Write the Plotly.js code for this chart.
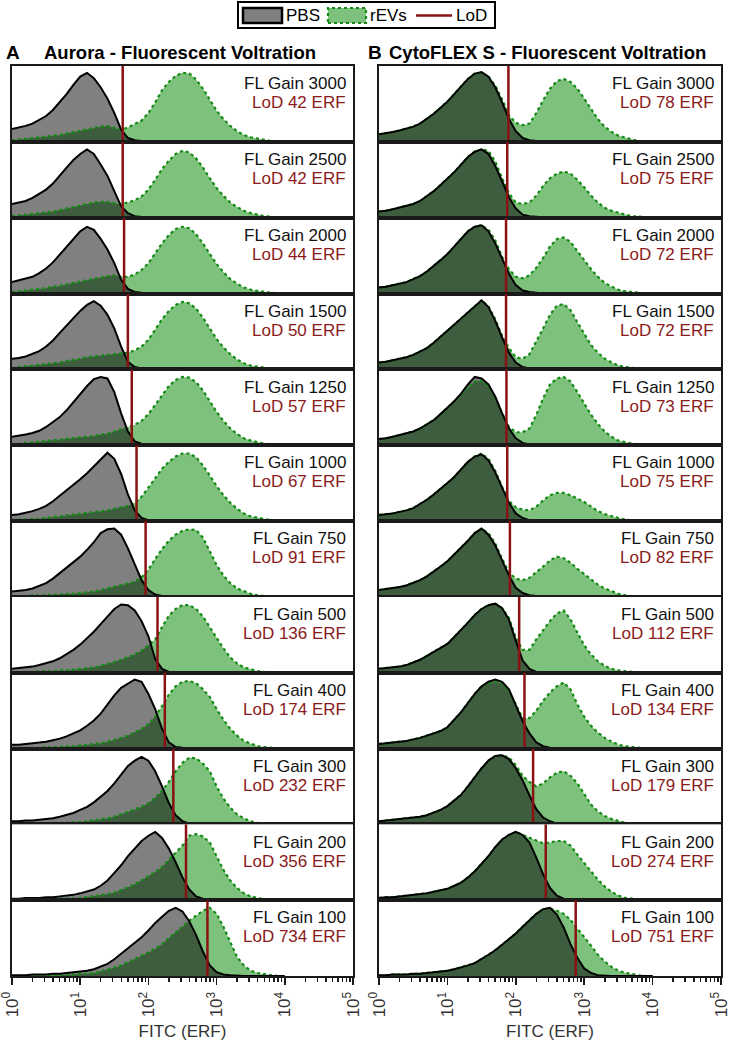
<!DOCTYPE html>
<html><head><meta charset="utf-8">
<script src="https://cdn.plot.ly/plotly-3.0.1.min.js"></script>
<style>html,body{margin:0;padding:0;background:#fff}#chart{width:733px;height:1044px}</style>
</head><body><div id="chart"></div>
<script>
// ---------- data ----------
const binLog10 = [0.0,0.1,0.2,0.3,0.4,0.5,0.6,0.7,0.8,0.9,1.0,1.1,1.2,1.3,1.4,1.5,1.6,1.7,1.8,1.9,2.0,2.1,2.2,2.3,2.4,2.5,2.6,2.7,2.8,2.9,3.0,3.1,3.2,3.3,3.4,3.5,3.6,3.7,3.8,3.9,4.0];
const gains = [3000,2500,2000,1500,1250,1000,750,500,400,300,200,100];
const lodAurora = [42,42,44,50,57,67,91,136,174,232,356,734];
const lodCyto = [78,75,72,72,73,75,82,112,134,179,274,751];
const tickVals = [1,10,100,1000,10000,100000];
const tickText = ['10<sup>0</sup>','10<sup>1</sup>','10<sup>2</sup>','10<sup>3</sup>','10<sup>4</sup>','10<sup>5</sup>'];

// Aurora (A) - normalized event counts
const aPBS3000 = [17,19,21,24,29,34,42,52,63,75,86,91,84,72,57,38,16,5,2,1,0,0,0,0,0,0,0,0,0,0,0,0,0,0,0,0,0,0,0,0,0];
const aREV3000 = [2,3,4,5,6,7,8,9,11,13,15,17,19,20,21,19,16,19,23,28,38,52,68,79,87,91,90,82,70,55,41,30,21,14,9,6,4,2,1,0,0];
const aPBS2500 = [18,20,22,26,31,37,45,56,66,76,84,90,84,70,55,35,15,6,2,1,0,0,0,0,0,0,0,0,0,0,0,0,0,0,0,0,0,0,0,0,0];
const aREV2500 = [2,3,4,5,6,7,8,10,12,14,16,18,20,21,21,19,18,20,23,28,37,50,64,75,84,88,86,78,66,52,39,29,20,14,9,6,4,2,1,0,0];
const aPBS2000 = [15,17,19,22,27,33,41,51,62,72,82,88,84,72,58,40,18,6,2,1,0,0,0,0,0,0,0,0,0,0,0,0,0,0,0,0,0,0,0,0,0];
const aREV2000 = [2,3,4,5,6,7,9,10,12,14,16,18,20,22,23,24,22,22,25,31,40,53,66,77,85,88,86,78,66,52,39,28,19,13,8,5,3,2,1,0,0];
const aPBS1500 = [14,15,17,20,24,30,38,48,58,68,77,85,90,84,72,54,30,10,3,1,0,0,0,0,0,0,0,0,0,0,0,0,0,0,0,0,0,0,0,0,0];
const aREV1500 = [2,3,4,5,6,7,8,9,11,12,14,16,17,18,19,20,21,22,25,30,39,52,66,77,85,89,87,80,68,54,40,29,20,13,8,5,3,2,1,0,0];
const aPBS1250 = [11,12,14,16,19,24,30,37,46,57,67,78,87,90,88,70,42,18,5,2,1,0,0,0,0,0,0,0,0,0,0,0,0,0,0,0,0,0,0,0,0];
const aREV1250 = [1,2,3,3,4,5,6,7,8,9,10,11,12,14,15,18,21,24,27,32,41,53,66,78,86,90,89,83,72,58,44,32,22,15,9,6,4,2,1,0,0];
const aPBS1000 = [8,9,11,13,16,20,26,33,41,48,55,63,72,82,90,82,62,35,14,4,1,0,0,0,0,0,0,0,0,0,0,0,0,0,0,0,0,0,0,0,0];
const aREV1000 = [1,2,2,3,3,4,5,6,7,8,9,10,11,12,14,16,18,20,24,32,44,57,69,78,85,89,89,84,73,60,46,34,24,16,10,6,4,2,1,0,0];
const aPBS750 = [7,8,9,11,14,18,24,31,38,46,53,62,72,84,89,90,82,64,42,22,9,3,1,0,0,0,0,0,0,0,0,0,0,0,0,0,0,0,0,0,0];
const aREV750 = [1,1,1,2,2,2,3,3,4,4,5,6,7,9,11,13,15,17,20,26,36,50,63,74,82,87,89,88,78,60,42,28,18,11,7,4,2,1,0,0,0];
const aPBS500 = [5,6,7,8,10,12,15,19,24,30,37,45,54,64,74,84,90,89,82,68,48,18,5,1,0,0,0,0,0,0,0,0,0,0,0,0,0,0,0,0,0];
const aREV500 = [0,1,1,1,2,2,2,3,3,4,5,6,7,9,11,14,17,20,24,29,36,44,60,75,84,89,89,84,74,60,45,32,20,12,7,4,2,1,0,0,0];
const aPBS400 = [5,5,6,7,8,9,11,13,16,20,24,30,37,46,58,70,80,86,91,88,72,52,26,8,2,1,0,0,0,0,0,0,0,0,0,0,0,0,0,0,0];
const aREV400 = [0,1,1,1,1,2,2,2,3,3,4,5,6,7,9,11,14,17,21,26,32,42,56,71,82,88,89,86,78,68,52,38,26,17,10,6,3,2,1,0,0];
const aPBS300 = [4,4,5,5,6,7,8,10,12,15,19,23,29,36,44,54,66,77,84,89,84,70,50,28,12,4,1,0,0,0,0,0,0,0,0,0,0,0,0,0,0];
const aREV300 = [0,0,1,1,1,1,2,2,2,3,3,4,5,6,8,10,13,16,19,23,28,35,44,56,70,81,88,87,80,70,50,34,22,13,8,4,2,1,0,0,0];
const aPBS200 = [2,2,3,3,3,4,4,5,6,7,9,11,14,19,26,36,46,58,68,78,85,90,82,68,50,30,14,5,2,1,0,0,0,0,0,0,0,0,0,0,0];
const aREV200 = [0,0,0,1,1,1,1,2,2,2,3,4,5,6,8,10,13,17,21,26,31,37,44,53,62,72,85,87,84,76,58,40,26,16,9,5,3,1,0,0,0];
const aPBS100 = [1,1,1,2,2,2,3,3,4,5,6,7,9,12,16,22,29,36,44,51,60,70,78,86,90,85,72,54,32,14,5,2,1,0,0,0,0,0,0,0,0];
const aREV100 = [0,0,0,0,1,1,1,1,2,2,3,3,4,6,8,11,14,18,22,26,31,36,42,50,57,65,73,80,86,90,82,65,44,25,14,7,4,2,1,0,0];

// CytoFLEX S (B) - normalized event counts
const cPBS3000 = [10,11,13,15,17,20,24,30,37,45,53,63,73,83,90,92,86,72,52,30,14,5,2,1,0,0,0,0,0,0,0,0,0,0,0,0,0,0,0,0,0];
const cREV3000 = [10,11,13,15,17,20,24,30,37,45,53,63,73,83,90,91,86,74,56,35,25,22,24,38,55,70,80,83,79,70,57,43,30,20,13,8,5,3,1,0,0];
const cPBS2500 = [8,9,11,13,15,18,22,28,35,43,51,60,70,80,87,90,84,68,48,27,12,4,2,1,0,0,0,0,0,0,0,0,0,0,0,0,0,0,0,0,0];
const cREV2500 = [8,9,11,13,15,18,22,28,35,43,51,60,70,80,87,90,88,74,52,32,20,18,20,29,42,52,58,61,58,50,40,29,20,13,9,6,4,2,1,0,0];
const cPBS2000 = [8,9,11,13,15,19,23,29,36,44,52,62,72,82,88,90,82,66,46,26,11,4,2,1,0,0,0,0,0,0,0,0,0,0,0,0,0,0,0,0,0];
const cREV2000 = [8,9,11,13,15,19,23,29,36,44,52,62,72,82,88,90,84,70,48,32,22,20,24,34,47,62,72,74,68,56,44,32,22,14,9,5,3,2,1,0,0];
const cPBS1500 = [9,10,12,14,16,19,23,28,35,43,52,60,68,76,84,91,82,64,42,22,9,3,1,0,0,0,0,0,0,0,0,0,0,0,0,0,0,0,0,0,0];
const cREV1500 = [9,10,12,14,16,19,23,28,35,43,52,60,68,76,84,91,83,66,44,28,16,14,20,36,54,72,84,86,78,62,46,32,22,14,9,5,3,2,1,0,0];
const cPBS1250 = [8,9,11,13,15,18,22,27,33,41,49,58,68,80,90,88,80,64,42,22,9,3,1,0,0,0,0,0,0,0,0,0,0,0,0,0,0,0,0,0,0];
const cREV1250 = [8,9,11,13,15,18,22,27,33,41,49,57,66,76,84,85,78,63,42,24,17,17,22,40,62,80,88,90,84,70,54,40,28,18,11,6,4,2,1,0,0];
const cPBS1000 = [8,9,10,12,14,17,22,28,35,42,50,58,68,78,85,88,80,64,44,24,10,4,1,0,0,0,0,0,0,0,0,0,0,0,0,0,0,0,0,0,0];
const cREV1000 = [8,9,10,12,14,17,22,28,35,42,50,58,68,78,85,89,82,66,45,26,18,15,14,19,27,34,37,37,34,30,25,19,13,9,6,4,2,1,0,0,0];
const cPBS750 = [9,10,11,13,15,18,22,27,33,40,47,56,64,74,84,90,82,68,48,28,12,5,2,1,0,0,0,0,0,0,0,0,0,0,0,0,0,0,0,0,0];
const cREV750 = [9,10,11,13,15,18,22,27,33,40,47,56,64,74,84,90,84,70,50,32,24,22,25,32,40,48,53,51,45,37,30,22,16,11,7,4,2,1,0,0,0];
const cPBS500 = [5,6,7,8,10,13,17,22,27,32,38,47,56,66,76,84,89,91,85,70,42,16,5,1,0,0,0,0,0,0,0,0,0,0,0,0,0,0,0,0,0];
const cREV500 = [5,6,7,8,10,13,17,22,27,32,38,47,56,66,76,84,89,91,85,72,46,30,30,44,56,68,78,82,70,52,36,24,15,9,5,3,2,1,0,0,0];
const cPBS400 = [6,7,8,9,10,12,14,17,20,23,28,38,48,60,72,82,88,91,88,78,58,36,20,8,3,1,0,0,0,0,0,0,0,0,0,0,0,0,0,0,0];
const cREV400 = [6,7,8,9,10,12,14,17,20,23,28,38,48,60,72,82,86,88,86,76,58,40,40,50,63,74,82,87,78,58,42,30,21,14,9,5,3,2,1,0,0];
const cPBS300 = [4,5,6,7,8,9,10,12,15,19,24,31,39,50,62,74,84,90,91,86,74,58,38,20,9,4,1,0,0,0,0,0,0,0,0,0,0,0,0,0,0];
const cREV300 = [4,5,6,7,8,9,10,12,15,19,24,31,39,50,62,74,84,90,91,88,78,64,56,50,54,62,68,70,64,54,40,26,17,11,7,4,2,1,0,0,0];
const cPBS200 = [3,4,4,5,6,7,8,9,11,13,15,19,23,30,38,48,58,70,80,86,90,86,76,56,34,16,6,2,1,0,0,0,0,0,0,0,0,0,0,0,0];
const cREV200 = [3,4,4,5,6,7,8,9,11,13,15,19,23,30,38,48,58,70,80,86,90,86,82,78,75,76,78,78,72,60,49,37,27,18,11,6,3,2,1,0,0];
const cPBS100 = [1,1,2,2,2,3,3,4,5,6,7,9,11,14,17,22,28,34,41,48,56,65,74,82,88,90,81,64,42,24,10,4,1,0,0,0,0,0,0,0,0];
const cREV100 = [1,1,2,2,2,3,3,4,5,6,7,9,11,14,17,22,28,34,41,48,56,65,74,82,88,89,86,82,74,63,52,40,28,19,12,7,4,2,1,0,0];

const auroraPBS = [aPBS3000,aPBS2500,aPBS2000,aPBS1500,aPBS1250,aPBS1000,aPBS750,aPBS500,aPBS400,aPBS300,aPBS200,aPBS100];
const auroraREV = [aREV3000,aREV2500,aREV2000,aREV1500,aREV1250,aREV1000,aREV750,aREV500,aREV400,aREV300,aREV200,aREV100];
const cytoPBS = [cPBS3000,cPBS2500,cPBS2000,cPBS1500,cPBS1250,cPBS1000,cPBS750,cPBS500,cPBS400,cPBS300,cPBS200,cPBS100];
const cytoREV = [cREV3000,cREV2500,cREV2000,cREV1500,cREV1250,cREV1000,cREV750,cREV500,cREV400,cREV300,cREV200,cREV100];

// ---------- styling / layout ----------
const W = 733, H = 1044;
const FONT = 'Liberation Sans, Arial, Helvetica, sans-serif';
const C_GRAY = '#808080', C_GREEN = '#7dc17d', C_OVER = '#3e5c3e', C_GLINE = '#138a13', C_RED = '#8b1212', C_FRAME = '#1a1a1a';
const gridTop = 66, gridBot = 976, nRows = 12;
const colPx = [[12, 353], [379, 721]];
const rowH = (gridBot - gridTop) / nRows;

const xs = binLog10.map(v => Math.pow(10, v));

function overlapCurve(a, b) {
  const X = [], Y = [];
  for (let i = 0; i < binLog10.length; i++) {
    X.push(binLog10[i]); Y.push(Math.min(a[i], b[i]));
    if (i < binLog10.length - 1) {
      const d0 = a[i] - b[i], d1 = a[i + 1] - b[i + 1];
      if (d0 * d1 < 0) {
        const t = d0 / (d0 - d1);
        X.push(binLog10[i] + t * (binLog10[i + 1] - binLog10[i]));
        Y.push(a[i] + t * (a[i + 1] - a[i]));
      }
    }
  }
  return {x: X.map(v => Math.pow(10, v)), y: Y};
}

const minorVals = [];
[1, 10, 100, 1000, 10000].forEach(d => { for (let k = 2; k <= 9; k++) minorVals.push(k * d); });

const traces = [];
const layout = {
  width: W, height: H,
  margin: {l: 0, r: 0, t: 0, b: 0},
  paper_bgcolor: '#fff', plot_bgcolor: '#fff',
  showlegend: false,
  font: {family: FONT, color: '#111'},
  annotations: [], shapes: []
};

const sets = [
  {pbs: auroraPBS, rev: auroraREV, lod: lodAurora},
  {pbs: cytoPBS, rev: cytoREV, lod: lodCyto}
];

sets.forEach((set, c) => {
  for (let r = 0; r < nRows; r++) {
    const idx = c * nRows + r + 1;
    const xa = 'x' + idx, ya = 'y' + idx;
    const top = gridTop + r * rowH, bot = top + rowH;
    const pbs = set.pbs[r], rev = set.rev[r];
    const ov = overlapCurve(pbs, rev);
    const base = {xaxis: xa, yaxis: ya, hoverinfo: 'skip', showlegend: false};
    traces.push(Object.assign({x: xs, y: pbs, mode: 'lines', fill: 'tozeroy', fillcolor: C_GRAY, line: {width: 0, color: C_GRAY}, name: 'PBS'}, base));
    traces.push(Object.assign({x: xs, y: rev, mode: 'lines', fill: 'tozeroy', fillcolor: C_GREEN, line: {width: 0, color: C_GREEN}, name: 'rEVs'}, base));
    traces.push(Object.assign({x: ov.x, y: ov.y, mode: 'lines', fill: 'tozeroy', fillcolor: C_OVER, line: {width: 0, color: C_OVER}, name: 'overlap'}, base));
    traces.push(Object.assign({x: xs, y: rev, mode: 'lines', line: {width: 2.2, color: C_GLINE, dash: 'dot'}, name: 'rEVs'}, base));
    traces.push(Object.assign({x: xs, y: pbs, mode: 'lines', line: {width: 2, color: '#000'}, name: 'PBS'}, base));
    traces.push(Object.assign({x: [set.lod[r], set.lod[r]], y: [0, 100], mode: 'lines', line: {width: 2.5, color: C_RED}, name: 'LoD'}, base));

    const isBottom = r === nRows - 1;
    const xax = {
      type: 'log', range: [0, 5],
      domain: [colPx[c][0] / W, colPx[c][1] / W],
      anchor: ya,
      showline: true, mirror: true, linecolor: C_FRAME, linewidth: 2,
      showgrid: false, zeroline: false, fixedrange: true,
      ticks: '', showticklabels: false
    };
    if (isBottom) {
      Object.assign(xax, {
        ticks: 'outside', ticklen: 7, tickwidth: 1.5, tickcolor: C_FRAME,
        tickmode: 'array', tickvals: tickVals, ticktext: tickText,
        showticklabels: true, tickangle: -90, ticklabeloverflow: 'allow',
        tickfont: {family: FONT, size: 17, color: '#333'},
        minor: {tickmode: 'array', tickvals: minorVals, ticks: 'outside', ticklen: 4, tickwidth: 1.5, tickcolor: C_FRAME, showgrid: false},
        title: {text: 'FITC (ERF)', font: {family: FONT, size: 17, color: '#333'}, standoff: 9}
      });
    }
    layout['xaxis' + idx] = xax;
    layout['yaxis' + idx] = {
      range: [0, 100], domain: [1 - bot / H, 1 - top / H], anchor: xa,
      showline: true, mirror: true, linecolor: C_FRAME, linewidth: 2,
      showgrid: false, zeroline: false, ticks: '', showticklabels: false, fixedrange: true
    };
    layout.annotations.push({
      xref: xa + ' domain', yref: ya + ' domain', x: 1, xshift: -5, y: 0.765, xanchor: 'right', yanchor: 'middle',
      text: 'FL Gain ' + gains[r], showarrow: false, font: {family: FONT, size: 17, color: '#111'}
    });
    layout.annotations.push({
      xref: xa + ' domain', yref: ya + ' domain', x: 1, xshift: -5, y: 0.515, xanchor: 'right', yanchor: 'middle',
      text: 'LoD ' + set.lod[r] + ' ERF', showarrow: false, font: {family: FONT, size: 17, color: '#8b1a1a'}
    });
  }
});

// panel titles
const px = v => v / W, py = v => 1 - v / H;
[
  {x: 4, text: '<b>A</b>', size: 19},
  {x: 42, text: '<b>Aurora - Fluorescent Voltration</b>', size: 18.5},
  {x: 366, text: '<b>B</b>', size: 19},
  {x: 387, text: '<b>CytoFLEX S - Fluorescent Voltration</b>', size: 18.5}
].forEach(t => layout.annotations.push({
  xref: 'paper', yref: 'paper', x: px(t.x), y: py(53), xanchor: 'left', yanchor: 'middle',
  text: t.text, showarrow: false, font: {family: FONT, size: t.size, color: '#000'}
}));

// legend (drawn as a framed key)
layout.shapes.push({type: 'rect', xref: 'paper', yref: 'paper', x0: px(238), x1: px(495), y0: py(28), y1: py(2), line: {color: '#000', width: 2}, fillcolor: '#fff', layer: 'above'});
layout.shapes.push({type: 'rect', xref: 'paper', yref: 'paper', x0: px(243), x1: px(282), y0: py(23), y1: py(8), line: {color: '#000', width: 2.5}, fillcolor: C_GRAY, layer: 'above'});
layout.shapes.push({type: 'rect', xref: 'paper', yref: 'paper', x0: px(328), x1: px(366), y0: py(23), y1: py(8), line: {color: C_GLINE, width: 2.2, dash: 'dot'}, fillcolor: C_GREEN, layer: 'above'});
layout.shapes.push({type: 'line', xref: 'paper', yref: 'paper', x0: px(416), x1: px(452), y0: py(15.5), y1: py(15.5), line: {color: C_RED, width: 2.5}, layer: 'above'});
[{x: 284, t: 'PBS'}, {x: 368, t: 'rEVs'}, {x: 454, t: 'LoD'}].forEach(l => layout.annotations.push({
  xref: 'paper', yref: 'paper', x: px(l.x), y: py(15.5), xanchor: 'left', yanchor: 'middle',
  text: l.t, showarrow: false, font: {family: FONT, size: 17, color: '#000'}
}));

Plotly.newPlot('chart', traces, layout, {staticPlot: true, displayModeBar: false});
</script>
</body></html>
